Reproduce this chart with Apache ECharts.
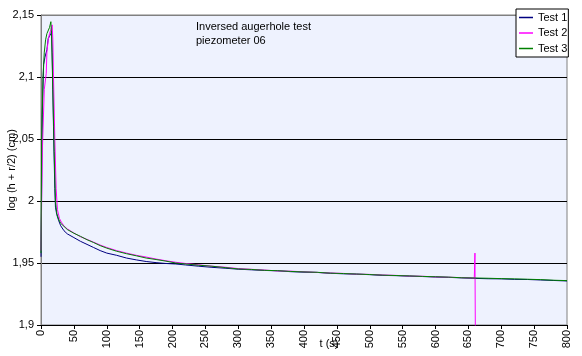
<!DOCTYPE html>
<html>
<head>
<meta charset="utf-8">
<script src="https://cdn.jsdelivr.net/npm/echarts@6/dist/echarts.min.js"></script>
<style>
    html, body { margin: 0; padding: 0; background: #fff; }
    #container { width: 582px; height: 356px; }
</style>
</head>
<body>
<div id="container"></div>
<script>
var chart = echarts.init(document.getElementById('container'));

var seriesNames = ['Test 1', 'Test 2', 'Test 3'];
var yTicks = [1.9, 1.95, 2, 2.05, 2.1, 2.15];

// Test 1 (blue)
var test1Time = [0, 2, 4, 6, 9, 11, 13, 15, 16, 17, 19, 21, 22, 24, 27, 30,
    35, 40, 50, 60, 70, 80, 90, 100, 115, 130, 145, 160, 175, 190, 205, 220,
    240, 260, 280, 300, 320, 340, 360, 380, 400, 420, 440, 460, 480, 500, 520,
    540, 560, 580, 600, 620, 640, 660, 680, 700, 720, 740, 760, 780, 800];
var test1Value = [1.955, 2.07, 2.11, 2.116, 2.122, 2.131, 2.130, 2.135, 2.137, 2.12, 2.06, 2.01, 1.995, 1.989, 1.984, 1.980,
    1.976, 1.9735, 1.9705, 1.9675, 1.965, 1.9625, 1.960, 1.958, 1.9562, 1.954, 1.9525, 1.9512, 1.9503, 1.9496, 1.9492, 1.9484,
    1.9474, 1.9465, 1.9458, 1.945, 1.9445, 1.944, 1.9437, 1.943, 1.9426, 1.9424, 1.9417, 1.9413, 1.941, 1.9406, 1.94,
    1.9398, 1.9394, 1.9391, 1.9387, 1.9384, 1.938, 1.9376, 1.9373, 1.9372, 1.9368, 1.9367, 1.9363, 1.9359, 1.9355];

// Test 2 (magenta), ends with a spike at 660 s
var test2Time = [0, 2, 5, 8, 9, 11, 13, 15, 17, 18, 19, 21, 23, 25, 28, 31,
    35, 40, 50, 60, 70, 80, 90, 100, 115, 130, 145, 160, 175, 190, 205, 220,
    240, 260, 280, 300, 320, 340, 360, 380, 400, 420, 440, 460, 480, 500, 520,
    540, 560, 580, 600, 620, 640, 655, 659, 660, 661];
var test2Value = [1.96, 2.04, 2.09, 2.103, 2.12, 2.13, 2.135, 2.138, 2.142, 2.13, 2.10, 2.05, 2.01, 1.993, 1.986, 1.983,
    1.9798, 1.9775, 1.9742, 1.9712, 1.969, 1.9668, 1.9645, 1.9625, 1.960, 1.958, 1.9562, 1.9548, 1.9532, 1.9518, 1.9506, 1.9496,
    1.9485, 1.9474, 1.9466, 1.9455, 1.9449, 1.9443, 1.9436, 1.9434, 1.9429, 1.9424, 1.9419, 1.9416, 1.941, 1.9408, 1.9403,
    1.94, 1.9395, 1.9393, 1.9388, 1.9385, 1.9382, 1.9379, 1.9378, 1.958, 1.85];

// Test 3 (green)
var test3Time = [0, 1, 3, 5, 7, 9, 11, 13, 15, 16, 18, 20, 22, 24, 27, 30,
    35, 40, 50, 60, 70, 80, 90, 100, 115, 130, 145, 160, 175, 190, 205, 220,
    240, 260, 280, 300, 320, 340, 360, 380, 400, 420, 440, 460, 480, 500, 520,
    540, 560, 580, 600, 620, 640, 660, 680, 700, 720, 740, 760, 780, 800];
var test3Value = [1.958, 2.05, 2.10, 2.12, 2.13, 2.135, 2.134, 2.14, 2.1446, 2.135, 2.09, 2.04, 2.0, 1.99, 1.985, 1.982,
    1.9795, 1.977, 1.974, 1.9715, 1.9688, 1.9665, 1.964, 1.962, 1.9595, 1.9575, 1.9558, 1.954, 1.9528, 1.9515, 1.95, 1.9492,
    1.9482, 1.9474, 1.9463, 1.9452, 1.9448, 1.9441, 1.9438, 1.9432, 1.9428, 1.9425, 1.9418, 1.9415, 1.9411, 1.9407, 1.9402,
    1.9399, 1.9396, 1.9392, 1.9389, 1.9386, 1.9381, 1.9379, 1.9377, 1.9374, 1.9372, 1.9369, 1.9366, 1.9361, 1.9358];

var colors = ['#000080', '#FF00FF', '#008000'];

function pairs(times, values) {
    return times.map(function (t, i) { return [t, values[i]]; });
}

var allData = [pairs(test1Time, test1Value), pairs(test2Time, test2Value), pairs(test3Time, test3Value)];

var option = {
    animation: false,
    textStyle: { fontFamily: 'Liberation Sans', color: '#000' },
    title: {
        text: 'Inversed augerhole test\npiezometer 06',
        left: 196,
        top: 20,
        padding: 0,
        textStyle: { fontSize: 11, fontWeight: 'normal', lineHeight: 14, color: '#000' }
    },
    legend: {
        data: seriesNames,
        orient: 'vertical',
        left: 516,
        top: 9,
        padding: [2, 1, 2, 3],
        backgroundColor: '#fff',
        borderColor: '#000',
        borderWidth: 1,
        borderRadius: 0,
        icon: 'rect',
        itemWidth: 14,
        itemHeight: 1.5,
        itemGap: 2.5,
        textStyle: { fontSize: 11, lineHeight: 13, color: '#000' }
    },
    grid: {
        left: 41,
        right: 15,
        top: 15,
        bottom: 31,
        containLabel: false,
        outerBoundsMode: 'none',
        show: true,
        backgroundColor: '#EEF2FE',
        borderColor: '#808080',
        borderWidth: 1
    },
    xAxis: {
        type: 'value',
        min: 0,
        max: 800,
        interval: 50,
        name: 't (s)',
        nameLocation: 'middle',
        nameGap: 13,
        nameMoveOverlap: false,
        nameTextStyle: { fontSize: 11, color: '#000', padding: [0, 0, 0, 50] },
        axisLine: { lineStyle: { color: '#000' } },
        axisTick: { show: true, length: 4, lineStyle: { color: '#000' } },
        axisLabel: { rotate: 90, fontSize: 11, margin: 5, color: '#000', hideOverlap: false },
        splitLine: { show: false }
    },
    yAxis: {
        type: 'value',
        min: yTicks[0],
        max: yTicks[yTicks.length - 1],
        interval: 0.05,
        name: 'log (h + r/2) (cm)',
        nameLocation: 'middle',
        nameRotate: 90,
        nameGap: 24,
        nameMoveOverlap: false,
        nameTextStyle: { fontSize: 11, color: '#000' },
        axisLine: { show: true, lineStyle: { color: '#808080' } },
        axisTick: { show: true, length: 4, lineStyle: { color: '#000' } },
        axisLabel: {
            fontSize: 11,
            margin: 7,
            color: '#000',
            formatter: function (v) {
                return String(+v.toFixed(2)).replace('.', ',');
            }
        },
        splitLine: {
            show: true,
            lineStyle: { color: ['#000', '#000', '#000', '#000', '#000', '#808080'], width: 1 }
        }
    },
    series: seriesNames.map(function (name, i) {
        return {
            name: name,
            type: 'line',
            data: allData[i],
            showSymbol: false,
            symbol: 'none',
            clip: true,
            color: colors[i],
            lineStyle: { color: colors[i], width: 1 }
        };
    })
};
chart.setOption(option);
</script>
</body>
</html>
